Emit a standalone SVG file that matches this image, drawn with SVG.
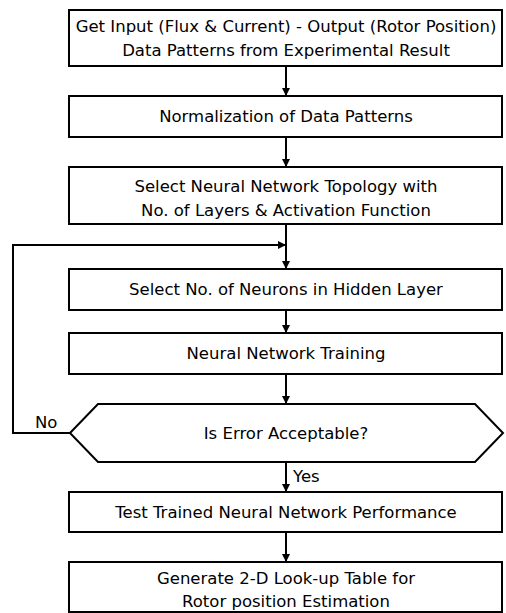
<svg xmlns="http://www.w3.org/2000/svg" width="506" height="613" viewBox="0 0 506 613">
<defs>
<marker id="ah" viewBox="0 0 10 10" refX="10" refY="5" markerWidth="8" markerHeight="8" markerUnits="userSpaceOnUse" orient="auto">
<path d="M0,0 L10,5 L0,10 Z" fill="#000"/>
</marker>
<style>
.box{fill:#fff;stroke:#000;stroke-width:2}
.t{font-family:"DejaVu Sans",Verdana,sans-serif;font-size:16.5px;fill:#000;text-anchor:middle}
.l{font-family:"DejaVu Sans",Verdana,sans-serif;font-size:16.5px;fill:#000}
.c{fill:none;stroke:#000;stroke-width:2}
</style>
</defs>
<rect width="506" height="613" fill="#fff"/>
<g id="connectors">
<line class="c" x1="286" y1="66" x2="286" y2="96" marker-end="url(#ah)"/>
<line class="c" x1="286" y1="137" x2="286" y2="167" marker-end="url(#ah)"/>
<line class="c" x1="286" y1="224" x2="286" y2="269" marker-end="url(#ah)"/>
<line class="c" x1="286" y1="310" x2="286" y2="333" marker-end="url(#ah)"/>
<line class="c" x1="286" y1="374" x2="286" y2="404" marker-end="url(#ah)"/>
<line class="c" x1="286" y1="462" x2="286" y2="492" marker-end="url(#ah)"/>
<line class="c" x1="286" y1="532" x2="286" y2="562" marker-end="url(#ah)"/>
<polyline class="c" points="70,433 13,433 13,245 286,245" marker-end="url(#ah)"/>
<text class="l" x="35" y="428">No</text>
<text class="l" x="293" y="482">Yes</text>
</g>
<g id="n1">
<rect class="box" x="69" y="10" width="433" height="56"/>
<text class="t" x="286" y="32">Get Input (Flux &amp; Current) - Output (Rotor Position)</text>
<text class="t" x="286" y="56">Data Patterns from Experimental Result</text>
</g>
<g id="n2">
<rect class="box" x="69" y="96" width="433" height="41"/>
<text class="t" x="286" y="122">Normalization of Data Patterns</text>
</g>
<g id="n3">
<rect class="box" x="69" y="167" width="433" height="57"/>
<text class="t" x="286" y="192">Select Neural Network Topology with</text>
<text class="t" x="286" y="216">No. of Layers &amp; Activation Function</text>
</g>
<g id="n4">
<rect class="box" x="69" y="269" width="433" height="41"/>
<text class="t" x="286" y="295">Select No. of Neurons in Hidden Layer</text>
</g>
<g id="n5">
<rect class="box" x="69" y="333" width="433" height="41"/>
<text class="t" x="286" y="359">Neural Network Training</text>
</g>
<g id="n6">
<polygon class="box" points="70,433 98,404 475,404 503,433 475,462 98,462"/>
<text class="t" x="286" y="439">Is Error Acceptable?</text>
</g>
<g id="n7">
<rect class="box" x="69" y="492" width="433" height="40"/>
<text class="t" x="286" y="518">Test Trained Neural Network Performance</text>
</g>
<g id="n8">
<rect class="box" x="69" y="562" width="433" height="50"/>
<text class="t" x="286" y="584">Generate 2-D Look-up Table for</text>
<text class="t" x="286" y="607">Rotor position Estimation</text>
</g>
</svg>
